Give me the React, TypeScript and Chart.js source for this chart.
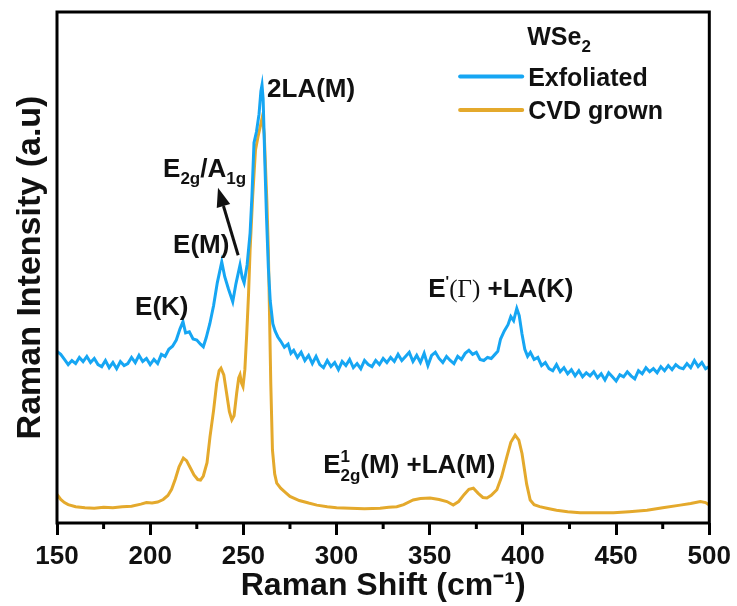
import { useEffect, useRef } from 'react';
import { Chart, registerables } from 'chart.js';

Chart.register(...registerables);

// Raman spectra of WSe2 (intensity in arbitrary units)
const exfoliatedShift = [
  150, 152, 154, 156, 158, 160, 162, 164, 166, 168, 170, 172, 174, 176, 178, 180, 182, 184, 186, 188,
  190, 192, 194, 196, 198, 200, 202, 204, 206, 208, 210, 212, 214, 216, 217.6, 219, 221, 223, 225, 227,
  228.5, 230, 232, 234, 236, 238.4, 240, 242, 244.3, 246, 248.2, 249.4, 250.4, 252, 253.6, 254.6, 255.7,
  257, 258.4, 259.4, 260, 260.6, 261.6, 262.4, 263.4, 264.4, 265.8, 267, 268.5, 270, 272, 274, 275.5,
  277, 279, 281, 283, 285, 287, 289, 291, 293, 295, 297, 299, 301, 303, 305, 307, 309, 311, 313, 315,
  317, 319, 321, 323, 325, 327, 329, 331, 333, 335, 337, 339, 341, 343, 345, 347, 349, 351, 353, 355,
  357, 359, 361, 363, 365, 367, 369, 371, 373, 375, 377, 379, 381, 383, 385, 386.5, 388, 390, 392,
  393.5, 395, 396.7, 398, 399.5, 401, 402.5, 404, 406, 408, 410, 412, 414, 416, 418, 420, 422, 424, 426,
  428, 430, 432, 434, 436, 438, 440, 442, 444, 446, 448, 450, 452, 454, 456, 458, 460, 462, 464, 466,
  468, 470, 472, 474, 476, 478, 480, 482, 484, 486, 488, 490, 492, 494, 496, 498, 500,
];
const exfoliatedIntensity = [
  33.6, 33.0, 32.0, 31.0, 31.8, 31.2, 32.4, 31.6, 32.6, 31.4, 32.2, 31.0, 30.6, 31.8, 30.4, 31.4, 30.2, 31.6, 30.8, 31.2,
  32.4, 31.4, 32.8, 31.6, 32.2, 31.0, 32.0, 31.2, 33.0, 32.6, 34.0, 34.6, 35.8, 38.0, 39.4, 37.2, 37.4, 36.0, 35.8, 35.0,
  34.5, 36.2, 39.0, 42.5, 47.0, 51.1, 48.2, 45.8, 43.3, 46.8, 50.5, 48.0, 47.0, 50.5, 56.7, 64.0, 74.4,
  76.5, 80.0, 84.5, 85.7, 83.0, 69.7, 60.0, 50.0, 43.5, 39.0, 37.6, 36.4, 35.6, 34.4, 35.0, 33.2,
  33.8, 32.4, 33.4, 31.8, 32.8, 31.2, 32.6, 31.0, 30.4, 31.8, 30.6, 31.4, 30.0, 31.6, 30.8, 32.0, 30.4, 31.2, 30.2, 31.8,
  31.0, 30.6, 31.8, 31.0, 32.2, 31.4, 32.4, 31.6, 33.0, 31.8, 32.6, 33.4, 31.6, 32.8, 31.4, 33.2, 30.8, 32.8, 33.4, 32.2,
  31.4, 32.6, 31.8, 31.2, 32.6, 32.0, 33.2, 33.8, 33.0, 33.4, 32.0, 31.8, 32.4, 32.2, 33.0, 33.6, 36.0, 37.6, 38.8,
  40.4, 39.6, 42.0, 40.6, 37.0, 34.0, 32.6, 33.4, 32.0, 32.4, 30.8, 31.4, 30.2, 29.8, 31.0, 29.6, 30.4, 29.2, 30.0,
  28.8, 29.8, 28.6, 29.4, 28.8, 29.6, 28.4, 29.2, 28.0, 29.4, 28.6, 27.8, 29.0, 28.6, 29.6, 28.8, 28.2, 29.8, 29.2, 30.4,
  29.6, 30.2, 29.4, 30.6, 29.8, 30.8, 30.0, 31.0, 30.4, 30.2, 31.2, 30.4, 31.8, 30.6, 31.4, 30.2, 30.6,
];

const cvdShift = [
  150, 152, 154, 156, 160, 165, 170, 175, 180, 185, 190, 195, 198, 201, 204, 207, 209.5, 211.5, 213.5, 215.5,
  217.8, 219.5, 221.5, 223.5, 225.5, 227, 228.5, 230.5, 232.1, 234, 235.7, 237, 238, 239.5, 241, 242.5, 243.8,
  245, 246.4, 247.5, 248.2, 249, 249.8, 250.8, 251.8, 252.8, 253.6, 255, 256.5, 257.8, 259, 260.2, 261.2,
  262.6, 263.4, 264.7, 265.6, 266.8, 267.9, 270, 272.5, 275, 280, 285, 289.4, 295, 300, 307.3, 315, 323.4,
  328, 332.3, 336, 341.1, 345, 350.2, 355, 359.2, 362.6, 365.5, 368.5, 371, 373.4, 376, 378.5, 380.7, 383,
  386, 388.5, 391.4, 393.5, 395.8, 397.8, 399.5, 400.3, 402, 403.9, 406, 409, 412.8, 418, 424, 430.7, 440,
  448.6, 457, 466.6, 475, 484.4, 490, 495.2, 498, 500,
];
const cvdIntensity = [
  5.6, 4.6, 4.0, 3.6, 3.2, 3.0, 2.9, 3.1, 3.0, 3.2, 3.3, 3.7, 4.0, 3.9, 4.1, 4.6, 5.4, 6.6, 8.6, 11.0,
  12.7, 12.2, 10.8, 9.4, 8.5, 8.4, 9.2, 11.8, 16.9, 22.0, 27.4, 29.8, 30.3, 29.0, 25.4, 21.8, 20.2,
  21.0, 25.4, 28.4, 29.0, 27.4, 26.7, 30.0, 37.0, 45.0, 53.4, 64.0, 73.0, 75.5, 77.5, 79.5, 76.0,
  63.0, 53.4, 27.4, 14.3, 9.6, 7.8, 6.8, 6.0, 5.2, 4.4, 3.9, 3.5, 3.2, 3.0, 2.9, 2.8, 2.9,
  3.1, 3.2, 3.6, 4.5, 4.8, 4.9, 4.6, 4.2, 3.5, 4.2, 5.6, 6.6, 6.8, 5.8, 5.0, 4.9, 5.4,
  6.5, 9.0, 13.0, 15.8, 17.2, 16.2, 13.6, 11.7, 7.6, 4.5, 3.6, 3.2, 2.9, 2.5, 2.2, 2.0, 2.0,
  2.0, 2.2, 2.5, 3.0, 3.5, 3.8, 4.2, 4.0, 3.5,
];

const xTickValues = [150, 200, 250, 300, 350, 400, 450, 500];

const BLUE = '#16a6f3';
const ORANGE = '#e4a92c';
const SANS = "'Liberation Sans', Arial, Helvetica, sans-serif";
const SERIF = "'Liberation Serif', 'Times New Roman', serif";

type Part = { text: string; size?: number; dy?: number; family?: string; weight?: string; stack?: boolean };

function drawRich(ctx: CanvasRenderingContext2D, x: number, y: number, parts: Part[], base: number) {
  let cx = x;
  let lastStart = x;
  for (const p of parts) {
    const size = p.size ?? base;
    ctx.font = `${p.weight ?? 'bold'} ${size}px ${p.family ?? SANS}`;
    const startX = p.stack ? lastStart : cx;
    ctx.fillText(p.text, startX, y + (p.dy ?? 0));
    lastStart = startX;
    cx = startX + ctx.measureText(p.text).width;
  }
}

// peak labels anchored in data space (left edge, text baseline)
const peakLabels: { x: number; y: number; parts: Part[] }[] = [
  { x: 262.7, y: 83.4, parts: [{ text: '2LA(M)' }] },
  {
    x: 206.9,
    y: 67.7,
    parts: [
      { text: 'E' },
      { text: '2g', size: 17, dy: 7 },
      { text: '/' },
      { text: 'A' },
      { text: '1g', size: 17, dy: 7 },
    ],
  },
  { x: 212.3, y: 52.8, parts: [{ text: 'E(M)' }] },
  { x: 191.9, y: 40.7, parts: [{ text: 'E(K)' }] },
  {
    x: 349.2,
    y: 44.2,
    parts: [
      { text: 'E' },
      { text: "'", size: 15, dy: -11 },
      { text: '(\u0393)', family: SERIF, weight: 'normal', size: 25 },
      { text: ' +LA(K)' },
    ],
  },
  {
    x: 292.8,
    y: 9.8,
    parts: [
      { text: 'E' },
      { text: '1', size: 17, dy: -11 },
      { text: '2g', size: 17, dy: 8, stack: true },
      { text: '(M) +LA(M)' },
    ],
  },
];

const arrowTail = { x: 247.2, y: 52.4 };
const arrowTip = { x: 236.4, y: 65.6 };

const legendTitle = { x: 402.3, y: 93.5 };
const legendItems = [
  { label: 'Exfoliated', color: BLUE, x0: 366.3, x1: 399.6, y: 87.4, textY: 85.5 },
  { label: 'CVD grown', color: ORANGE, x0: 366.3, x1: 399.6, y: 80.8, textY: 79.1 },
];

const decorations = {
  id: 'decorations',
  afterDatasetsDraw(chart: any) {
    const { ctx, chartArea, scales } = chart;
    const xs = scales.x;
    const ys = scales.y;
    ctx.save();

    // minor ticks
    ctx.strokeStyle = '#000';
    ctx.lineWidth = 3;
    for (let i = 0; i < xTickValues.length - 1; i++) {
      const mid = (xTickValues[i] + xTickValues[i + 1]) / 2;
      const px = xs.getPixelForValue(mid);
      ctx.beginPath();
      ctx.moveTo(px, chartArea.bottom);
      ctx.lineTo(px, chartArea.bottom + 6);
      ctx.stroke();
    }

    // frame
    ctx.lineWidth = 3;
    ctx.strokeRect(chartArea.left, chartArea.top, chartArea.right - chartArea.left, chartArea.bottom - chartArea.top);

    // peak labels
    ctx.fillStyle = '#111';
    ctx.textBaseline = 'alphabetic';
    ctx.textAlign = 'left';
    for (const lab of peakLabels) {
      drawRich(ctx, xs.getPixelForValue(lab.x), ys.getPixelForValue(lab.y), lab.parts, 26);
    }

    // arrow
    const tx = xs.getPixelForValue(arrowTail.x);
    const ty = ys.getPixelForValue(arrowTail.y);
    const hx = xs.getPixelForValue(arrowTip.x);
    const hy = ys.getPixelForValue(arrowTip.y);
    const ang = Math.atan2(hy - ty, hx - tx);
    const headLen = 19;
    const headHalf = 7;
    const bx = hx - headLen * Math.cos(ang);
    const by = hy - headLen * Math.sin(ang);
    ctx.strokeStyle = '#111';
    ctx.lineWidth = 3;
    ctx.beginPath();
    ctx.moveTo(tx, ty);
    ctx.lineTo(bx, by);
    ctx.stroke();
    ctx.beginPath();
    ctx.moveTo(hx, hy);
    ctx.lineTo(bx + headHalf * Math.sin(ang), by - headHalf * Math.cos(ang));
    ctx.lineTo(bx - headHalf * Math.sin(ang), by + headHalf * Math.cos(ang));
    ctx.closePath();
    ctx.fill();

    // legend
    drawRich(
      ctx,
      xs.getPixelForValue(legendTitle.x),
      ys.getPixelForValue(legendTitle.y),
      [{ text: 'WSe' }, { text: '2', size: 17, dy: 7 }],
      25,
    );
    for (const item of legendItems) {
      const ly = ys.getPixelForValue(item.y);
      ctx.strokeStyle = item.color;
      ctx.lineWidth = 4;
      ctx.lineCap = 'round';
      ctx.beginPath();
      ctx.moveTo(xs.getPixelForValue(item.x0), ly);
      ctx.lineTo(xs.getPixelForValue(item.x1), ly);
      ctx.stroke();
      ctx.font = `bold 25px ${SANS}`;
      ctx.fillText(item.label, xs.getPixelForValue(item.x1) + 6, ys.getPixelForValue(item.textY));
    }
    ctx.restore();
  },
};

export default function App() {
  const canvasRef = useRef<HTMLCanvasElement | null>(null);

  useEffect(() => {
    document.body.style.margin = '0';
    const canvas = canvasRef.current;
    if (!canvas) return;
    const chart = new Chart(canvas, {
      type: 'line',
      data: {
        datasets: [
          {
            label: 'Exfoliated',
            data: exfoliatedShift.map((x, i) => ({ x, y: exfoliatedIntensity[i] })),
            borderColor: BLUE,
            borderWidth: 3,
            pointRadius: 0,
            tension: 0,
            fill: false,
          },
          {
            label: 'CVD grown',
            data: cvdShift.map((x, i) => ({ x, y: cvdIntensity[i] })),
            borderColor: ORANGE,
            borderWidth: 3,
            pointRadius: 0,
            tension: 0,
            fill: false,
          },
        ],
      },
      options: {
        responsive: false,
        animation: false,
        devicePixelRatio: 1,
        layout: { padding: { top: 12, right: 27, left: 0, bottom: 0 } },
        plugins: { legend: { display: false }, tooltip: { enabled: false } },
        scales: {
          x: {
            type: 'linear',
            min: 150,
            max: 500,
            afterFit: (s: any) => {
              s.height = 83;
            },
            afterBuildTicks: (s: any) => {
              s.ticks = xTickValues.map((v) => ({ value: v }));
            },
            ticks: {
              color: '#111',
              font: { family: SANS, size: 26, weight: 'bold' },
              padding: 6,
              maxRotation: 0,
              autoSkip: false,
            },
            grid: {
              display: true,
              drawOnChartArea: false,
              drawTicks: true,
              tickLength: 12,
              tickWidth: 3,
              tickColor: '#000',
            },
            border: { display: false },
            title: {
              display: true,
              text: 'Raman Shift (cm\u207B\u00B9)',
              color: '#111',
              font: { family: SANS, size: 32, weight: 'bold' },
              padding: { top: 0, bottom: 1 },
            },
          },
          y: {
            type: 'linear',
            min: 0,
            max: 100,
            afterFit: (s: any) => {
              s.width = 57;
            },
            ticks: { display: false },
            grid: { display: false },
            border: { display: false },
            title: {
              display: true,
              text: 'Raman Intensity (a.u)',
              color: '#111',
              font: { family: SANS, size: 34, weight: 'bold' },
              padding: { top: 10, bottom: 0 },
            },
          },
        },
      },
      plugins: [decorations],
    });
    return () => chart.destroy();
  }, []);

  return (
    <div style={{ width: 737, height: 606, background: '#fff' }}>
      <canvas ref={canvasRef} width={737} height={606} />
    </div>
  );
}
